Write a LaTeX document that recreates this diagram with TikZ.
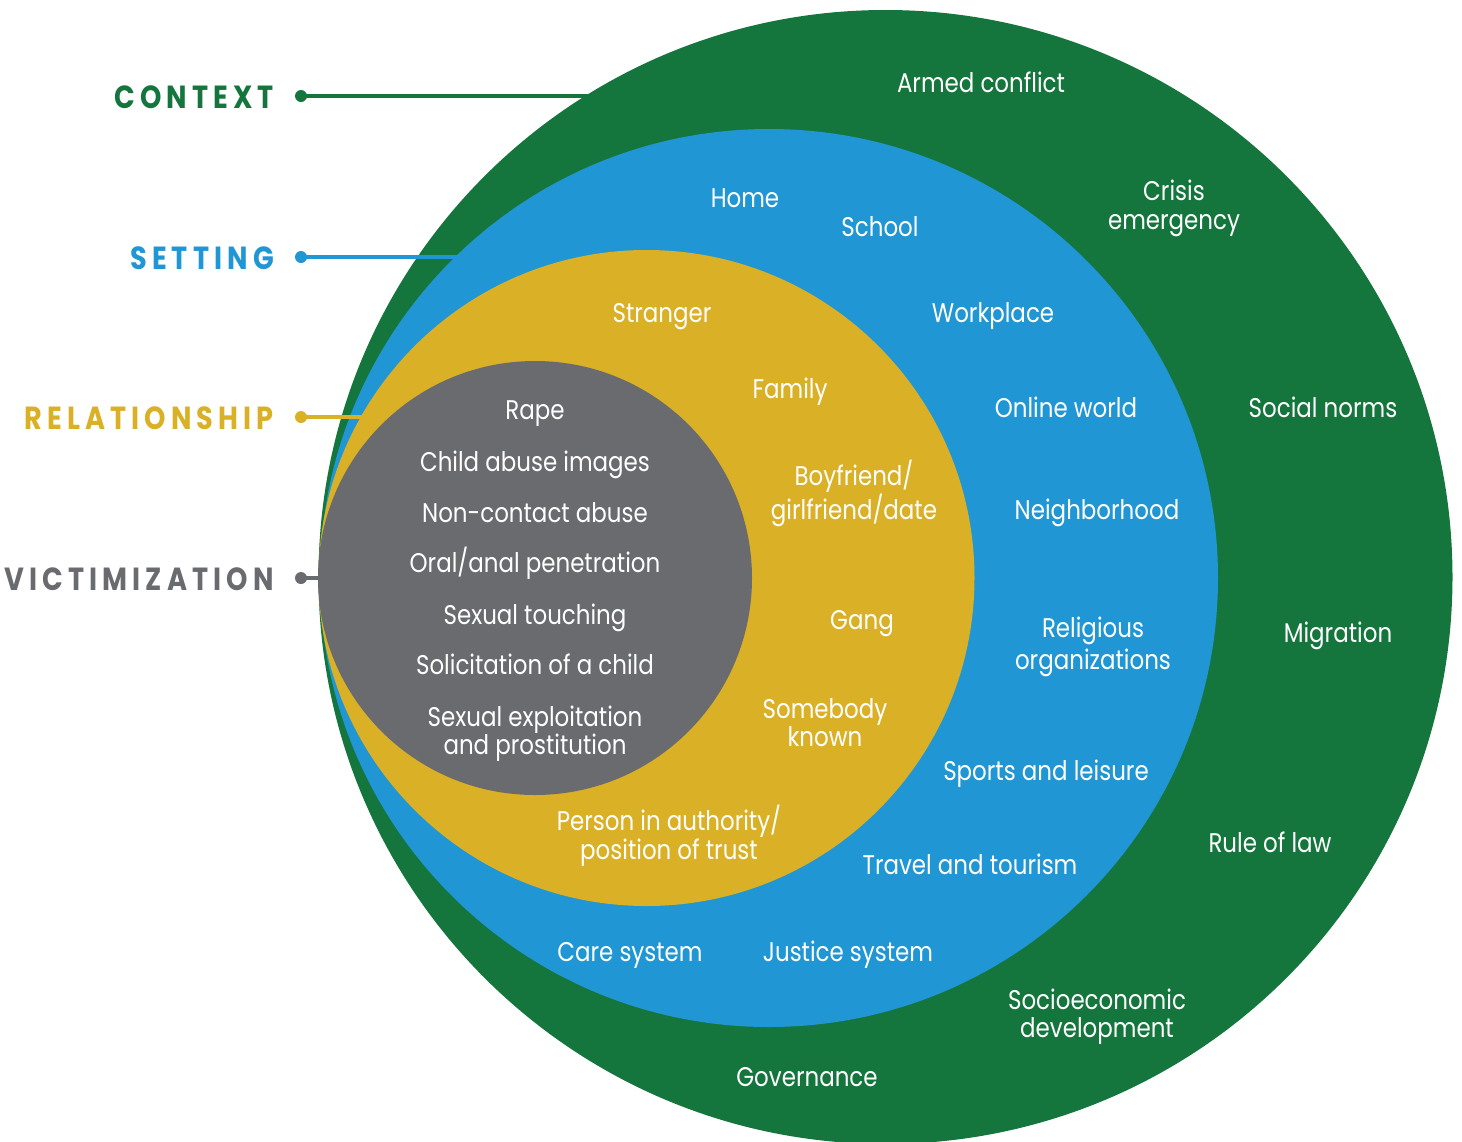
\documentclass[tikz,border=0pt]{standalone}
\usepackage{fontspec}
\setmainfont{Poppins}[FakeStretch=0.85]
\newfontfamily\labelfont{Poppins}[FakeStretch=0.85,LetterSpace=16]
\definecolor{ctxgreen}{RGB}{21,118,61}
\definecolor{setblue}{RGB}{33,150,212}
\definecolor{relyellow}{RGB}{218,176,38}
\definecolor{vicgray}{RGB}{106,107,111}
\begin{document}
\begin{tikzpicture}[x=1pt,y=-1pt,
ring/.style={circle,draw=none},
txt/.style={text=white,align=center,anchor=base,font=\fontsize{27}{28}\selectfont},
lbl/.style={anchor=base east,font=\labelfont\bfseries\fontsize{32}{32}\selectfont},
dot/.style={circle,fill,minimum size=12pt},
conn/.style={line width=4pt}]
\tikzstyle{every node}=[inner sep=0pt]
\useasboundingbox (0,0) rectangle (1462,1141);
% rings
\node[ring,fill=ctxgreen,minimum size=1134pt] (context) at (885.5,577) {};
\node[ring,fill=setblue,minimum size=898pt] (setting) at (769,578) {};
\node[ring,fill=relyellow,minimum size=656pt] (relation) at (646.5,578) {};
\node[ring,fill=vicgray,minimum size=434pt] (victim) at (535,578) {};
% labels on the left
\node[lbl,text=ctxgreen] (ctxlbl) at (274,108) {CONTEXT};
\node[lbl,text=setblue] (setlbl) at (274,269) {SETTING};
\node[lbl,text=relyellow] (rellbl) at (274,429) {RELATIONSHIP};
\node[lbl,text=vicgray] (viclbl) at (274,590) {VICTIMIZATION};
\node[dot,ctxgreen] (ctxdot) at (301,96) {};
\node[dot,setblue] (setdot) at (301,257) {};
\node[dot,relyellow] (reldot) at (301,417) {};
\node[dot,vicgray] (vicdot) at (301,578) {};
\coordinate (ctxend) at (590,96);
\coordinate (setend) at (457,257);
\coordinate (relend) at (362,417);
\coordinate (vicend) at (320,578);
\draw[conn,ctxgreen] (ctxdot.center) -- (ctxend);
\draw[conn,setblue] (setdot.center) -- (setend);
\draw[conn,relyellow] (reldot.center) -- (relend);
\draw[conn,vicgray] (vicdot.center) -- (vicend);
% context
\node[txt] (armed) at (981,92) {Armed conflict};
\node[txt,font=\fontsize{27}{29}\selectfont] (crisis) at (1174,229) {Crisis\\emergency};
\node[txt] (norms) at (1323,417) {Social norms};
\node[txt] (migration) at (1338,642) {Migration};
\node[txt] (law) at (1270,852) {Rule of law};
\node[txt] (socio) at (1097,1037) {Socioeconomic\\development};
\node[txt] (governance) at (807,1086) {Governance};
% setting
\node[txt] (home) at (745,207) {Home};
\node[txt] (school) at (880,236) {School};
\node[txt] (workplace) at (993,322) {Workplace};
\node[txt] (online) at (1066,417) {Online world};
\node[txt] (neighbor) at (1097,519) {Neighborhood};
\node[txt,font=\fontsize{27}{32}\selectfont] (religious) at (1093,669) {Religious\\organizations};
\node[txt] (sports) at (1046,780) {Sports and leisure};
\node[txt] (travel) at (970,874) {Travel and tourism};
\node[txt] (justice) at (848,961) {Justice system};
\node[txt] (care) at (630,961) {Care system};
% relationship
\node[txt] (stranger) at (662,322) {Stranger};
\node[txt] (family) at (790,398) {Family};
\node[txt,font=\fontsize{27}{27}\selectfont] (boyfriend) at (854,519) {Boyfriend/\\girlfriend/date};
\node[txt] (gang) at (862,629) {Gang};
\node[txt,font=\fontsize{27}{24}\selectfont] (somebody) at (825,746) {Somebody\\known};
\node[txt,font=\fontsize{27}{27}\selectfont] (authority) at (669,859) {Person in authority/\\position of trust};
% victimization
\node[txt] (rape) at (535,419) {Rape};
\node[txt] (images) at (535,471) {Child abuse images};
\node[txt] (noncontact) at (535,522) {Non-contact abuse};
\node[txt] (penetration) at (535,572) {Oral/anal penetration};
\node[txt] (touching) at (535,624) {Sexual touching};
\node[txt] (solicitation) at (535,674) {Solicitation of a child};
\node[txt,font=\fontsize{27}{28}\selectfont] (exploitation) at (535,754) {Sexual exploitation\\and prostitution};
\end{tikzpicture}
\end{document}
